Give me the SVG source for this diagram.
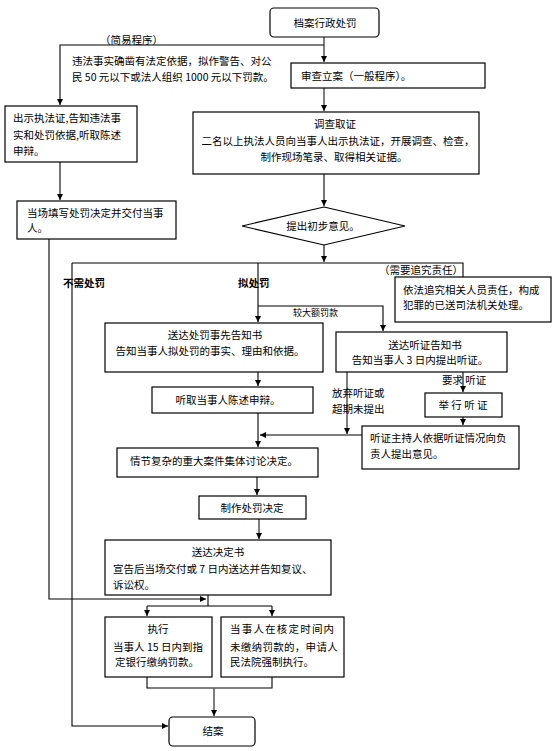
<svg xmlns="http://www.w3.org/2000/svg" width="556" height="751" viewBox="0 0 556 751">
<defs>
<marker id="ah" markerUnits="userSpaceOnUse" markerWidth="7" markerHeight="7" refX="6" refY="3" orient="auto"><path d="M0,0 L6,3 L0,6 z" fill="#000"/></marker>
</defs>
<style>
.b{fill:#fff;stroke:#000;stroke-width:1.2}
.t{font-family:"Noto Sans CJK SC","Noto Sans CJK JP",sans-serif;font-size:10.5px;fill:#000}
.c{text-anchor:middle}
.s{font-size:9px}
.bd{font-weight:bold}
.l{fill:none;stroke:#000;stroke-width:1.1}
.g{stroke:#555;stroke-width:1.5}
.a{marker-end:url(#ah)}
</style>
<rect width="556" height="751" fill="#fff"/>
<g id="connectors">
<path class="l g a" d="M324,37 V62"/>
<path class="l a" d="M324,45 H60 V105"/>
<path class="l g a" d="M324,88 V111"/>
<path class="l a" d="M324,174 V206"/>
<path class="l a" d="M60,162 V200"/>
<path class="l a" d="M324,245 V262"/>
<path class="l" d="M72,263 H463 V277"/>
<path class="l a" d="M72,263 V726 H168"/>
<path class="l a" d="M258,263 V322"/>
<path class="l a" d="M258,306 H383 V331"/>
<path class="l a" d="M258,372 V386"/>
<path class="l a" d="M258,413 V447"/>
<path class="l a" d="M362,435 H260"/>
<path class="l g a" d="M347,372 V434"/>
<path class="l a" d="M463,372 V392"/>
<path class="l a" d="M463,417 V425"/>
<path class="l a" d="M257,477 V495"/>
<path class="l g a" d="M259,519 V539"/>
<path class="l a" d="M49,239 V599 H206"/>
<path class="l" d="M208,595 V606 M147,606 H272"/>
<path class="l a" d="M147,606 V616"/>
<path class="l a" d="M272,606 V616"/>
<path class="l" d="M147,677 V688 H272 V677"/>
<path class="l g a" d="M214,688 V716"/>
</g>
<g id="labels">
<text class="t" x="100" y="44">（简易程序）</text>
<text class="t" x="72" y="65">违法事实确凿有法定依据，拟作警告、对公</text>
<text class="t" x="72" y="81">民 50 元以下或法人组织 1000 元以下罚款。</text>
<text class="t bd" x="63" y="287">不需处罚</text>
<text class="t bd" x="238" y="287">拟处罚</text>
<text class="t" x="379" y="274">（需要追究责任）</text>
<text class="t s" x="293" y="316">较大额罚款</text>
<text class="t" x="332" y="397">放弃听证或</text>
<text class="t" x="332" y="413">超期未提出</text>
<text class="t" x="442" y="384">要求 听证</text>
</g>
<g id="n-start"><rect class="b" x="270" y="8" width="109" height="29" rx="4"/><text class="t c" x="325" y="27">档案行政处罚</text></g>
<g id="n-review"><rect class="b" x="291" y="63" width="194" height="25"/><text class="t" x="301" y="80">审查立案（一般程序）。</text></g>
<g id="n-show"><rect class="b" x="5" y="106" width="132" height="56"/>
<text class="t" x="13" y="122">出示执法证,告知违法事</text><text class="t" x="13" y="139">实和处罚依据,听取陈述</text><text class="t" x="13" y="155">申辩。</text></g>
<g id="n-invest"><rect class="b" x="193" y="112" width="286" height="62"/>
<text class="t c" x="335" y="128">调查取证</text>
<text class="t c" x="338" y="145">二名以上执法人员向当事人出示执法证，开展调查、检查，</text>
<text class="t c" x="334" y="161">制作现场笔录、取得相关证据。</text></g>
<g id="n-fill"><rect class="b" x="17" y="201" width="159" height="38"/>
<text class="t" x="27" y="217">当场填写处罚决定并交付当事</text><text class="t" x="27" y="232">人。</text></g>
<g id="n-opinion"><path class="b" d="M324,207 L405,226 L324,245 L242,226 z"/><text class="t c" x="323" y="230">提出初步意见。</text></g>
<g id="n-pursue"><rect class="b" x="395" y="277" width="156" height="45"/>
<text class="t" x="403" y="294">依法追究相关人员责任，构成</text><text class="t" x="403" y="309">犯罪的已送司法机关处理。</text></g>
<g id="n-notice"><rect class="b" x="105" y="323" width="218" height="49"/>
<text class="t c" x="215" y="339">送达处罚事先告知书</text><text class="t c" x="210" y="355">告知当事人拟处罚的事实、理由和依据。</text></g>
<g id="n-hnotice"><rect class="b" x="336" y="332" width="171" height="40"/>
<text class="t c" x="425" y="349">送达听证告知书</text><text class="t c" x="420" y="364">告知当事人 3 日内提出听证。</text></g>
<g id="n-listen"><rect class="b" x="152" y="387" width="161" height="26"/><text class="t c" x="228" y="404">听取当事人陈述申辩。</text></g>
<g id="n-hearing"><rect class="b" x="425" y="393" width="77" height="24"/><text class="t c" x="463" y="409">举 行 听 证</text></g>
<g id="n-host"><rect class="b" x="362" y="426" width="157" height="43"/>
<text class="t" x="370" y="442">听证主持人依据听证情况向负</text><text class="t" x="370" y="458">责人提出意见。</text></g>
<g id="n-discuss"><rect class="b" x="117" y="448" width="201" height="29"/><text class="t" x="130" y="465">情节复杂的重大案件集体讨论决定。</text></g>
<g id="n-make"><rect class="b" x="199" y="496" width="107" height="23"/><text class="t c" x="252" y="512">制作处罚决定</text></g>
<g id="n-deliver"><rect class="b" x="105" y="540" width="226" height="55"/>
<text class="t c" x="218" y="556">送达决定书</text><text class="t" x="113" y="573">宣告后当场交付或 7 日内送达并告知复议、</text><text class="t" x="113" y="589">诉讼权。</text></g>
<g id="n-exec"><rect class="b" x="105" y="617" width="107" height="60"/>
<text class="t c" x="158" y="633">执行</text><text class="t c" x="158" y="651">当事人 15 日内到指</text><text class="t c" x="157" y="666">定银行缴纳罚款。</text></g>
<g id="n-force"><rect class="b" x="221" y="617" width="123" height="60"/>
<text class="t" x="230" y="633" letter-spacing="1.2">当事人在核定时间内</text><text class="t" x="230" y="651" letter-spacing="0.3">未缴纳罚款的，申请人</text><text class="t" x="230" y="666">民法院强制执行。</text></g>
<g id="n-end"><rect class="b" x="169" y="717" width="86" height="29" rx="4"/><text class="t c" x="213" y="735">结案</text></g>
</svg>
